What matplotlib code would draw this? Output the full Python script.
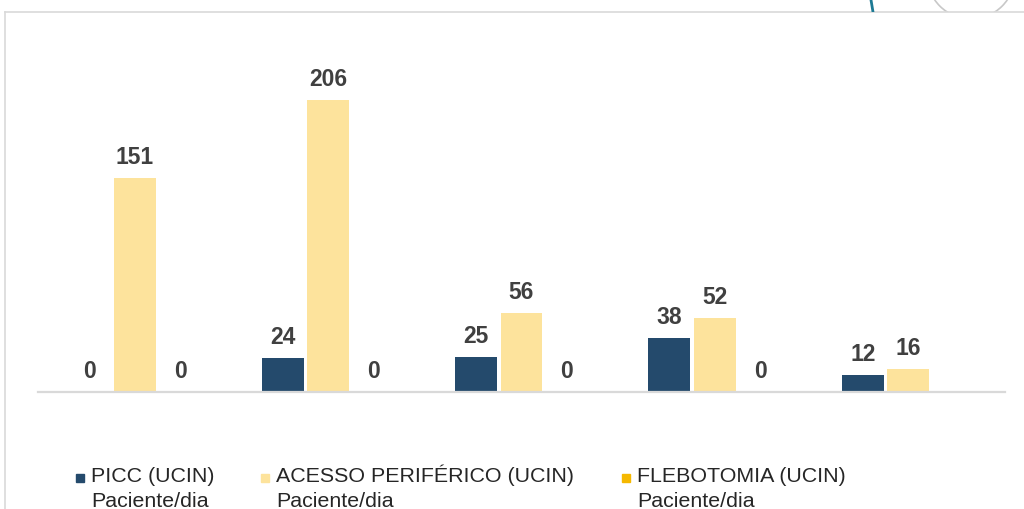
"""PICC / acesso periférico / flebotomia (UCIN) - barras agrupadas."""
import numpy as np
import matplotlib
matplotlib.use("Agg")
import matplotlib.pyplot as plt
from matplotlib.lines import Line2D
from matplotlib.patches import Rectangle, Circle
from matplotlib.transforms import Bbox

plt.rcParams["font.family"] = ["Liberation Sans", "DejaVu Sans"]

# dados
grupos = ["1", "2", "3", "4", "5"]
series = ["PICC (UCIN)\nPaciente/dia",
          "ACESSO PERIFÉRICO (UCIN)\nPaciente/dia",
          "FLEBOTOMIA (UCIN)\nPaciente/dia"]
picc = [0, 24, 25, 38, 12]
acesso = [151, 206, 56, 52, 16]
flebotomia = [0, 0, 0, 0, np.nan]
cores = ["#244a6c", "#fde39c", "#f5b800"]

W, H = 1024, 509
fig = plt.figure(figsize=(W / 100, H / 100), dpi=100)
ax = fig.add_axes([38 / W, 1 - 392 / H, (1005 - 38) / W, (392 - 52) / H])

x = np.arange(len(grupos))
passo = 0.235
largura = 0.217
for i, (vals, cor) in enumerate(zip([picc, acesso, flebotomia], cores)):
    xs = x + (i - 1) * passo
    ax.bar(xs, vals, width=largura, color=cor)
    for xi, v in zip(xs, vals):
        if np.isnan(v):
            continue
        ax.annotate(f"{v:.0f}", (xi, v), xytext=(0, 10), textcoords="offset points",
                    ha="center", va="baseline", fontsize=16.5, fontweight="bold",
                    color="#404040")

ax.set_xlim(-0.5, 4.5)
ax.set_ylim(0, 240)
ax.set_xticks([])
ax.set_yticks([])
for s in ("top", "left", "right"):
    ax.spines[s].set_visible(False)
ax.spines["bottom"].set_color("#d9d9d9")
ax.spines["bottom"].set_linewidth(1.6)

# moldura do slide (decoracao acima da linha superior)
topo = Bbox.from_extents(0, H - 12, W, H)
fig.add_artist(Line2D([5 / W, 1], [1 - 12 / H, 1 - 12 / H], color="#d9d9d9", lw=1.2))
fig.add_artist(Line2D([5 / W, 5 / W], [0, 1 - 12 / H], color="#d9d9d9", lw=1.2))
teal = fig.add_artist(Line2D([871 / W, 873 / W], [1, 1 - 12 / H], color="#1d7a94", lw=2))
teal.set_clip_box(topo)
circ = fig.add_artist(Circle((971, H + 25), 44, transform=None, fill=False,
                             ec="#c8c8c8", lw=1.2))
circ.set_clip_box(topo)

# legenda manual (duas linhas por item)
leg_x = [76, 261, 622]
for lx, nome, cor in zip(leg_x, series, cores):
    fig.add_artist(Rectangle((lx / W, 1 - 482 / H), 8 / W, 8 / H, color=cor,
                             transform=fig.transFigure))
    for k, linha in enumerate(nome.split("\n")):
        fig.text((lx + 15) / W, 1 - (482 + 25 * k) / H, linha, fontsize=15.4,
                 color="#262626", va="baseline", ha="left")

fig.savefig("out.png", dpi=100)
